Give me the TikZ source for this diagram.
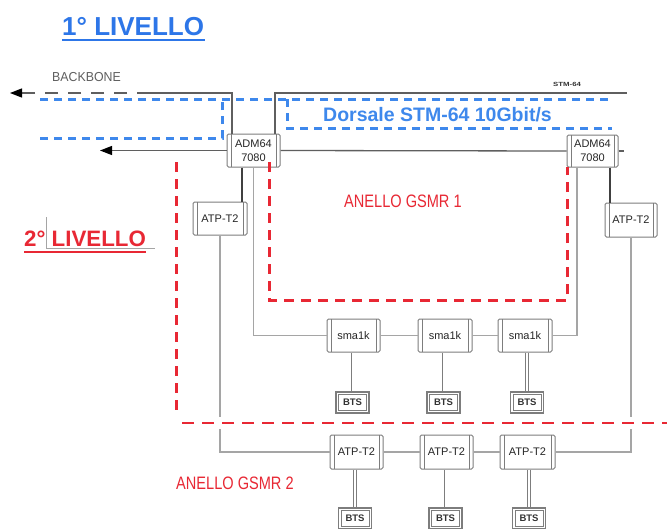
\documentclass[tikz,border=0pt]{standalone}
\usepackage{fontspec}
\setmainfont{Liberation Sans}
\usetikzlibrary{arrows.meta}
\definecolor{hblue}{RGB}{45,118,232}
\definecolor{dblue}{RGB}{62,136,236}
\definecolor{hred}{RGB}{232,40,52}
\definecolor{lgray}{RGB}{165,165,165}
\definecolor{bgray}{RGB}{125,125,125}
\definecolor{tgray}{RGB}{95,95,95}
\tikzset{
  dev/.style={draw=bgray, line width=1pt, rounded corners=1.5pt, fill=white, inner sep=0pt,
    text=black!85, align=center, font=\fontsize{11}{14}\selectfont,
    path picture={\draw[bgray,line width=.6pt]
      ([xshift=4pt]path picture bounding box.north west) -- ([xshift=4pt]path picture bounding box.south west)
      ([xshift=-4pt]path picture bounding box.north east) -- ([xshift=-4pt]path picture bounding box.south east);}},
  btsbox/.style={draw=bgray, line width=1.5pt, fill=white,
    inner sep=0pt, minimum width=33pt, minimum height=21pt, text=black!80,
    font=\bfseries\fontsize{9.5}{11}\selectfont,
    path picture={\draw[bgray,line width=.6pt]
      ([shift={(2.3pt,-2.3pt)}]path picture bounding box.north west) rectangle
      ([shift={(-2.3pt,2.3pt)}]path picture bounding box.south east);}},
  conn/.style={draw=lgray, line width=1.9pt},
  darkconn/.style={draw=black!75, line width=2.8pt},
  dconn/.style={draw=bgray, line width=.9pt, double=white, double distance=2pt},
  bdash/.style={draw=dblue, line width=3pt, dash pattern=on 8pt off 6pt},
  rdash/.style={draw=hred, line width=3pt, dash pattern=on 10pt off 7pt},
  arr/.style={-{Triangle[length=12pt,width=9pt,color=black]}}
}
\begin{document}
\begin{tikzpicture}[x=1pt,y=-1pt]
\useasboundingbox[fill=white] (0,0) rectangle (667,528);

% devices
\node[dev, minimum width=53pt, minimum height=33pt] (adm1) at (253.5,150.5) {ADM64\\7080};
\node[dev, minimum width=51pt, minimum height=32pt] (adm2) at (592.5,151) {ADM64\\7080};
\node[dev, minimum width=54pt, minimum height=33pt] (atpL) at (220,218.5) {ATP-T2};
\node[dev, minimum width=52pt, minimum height=34pt] (atpR) at (631,220) {ATP-T2};
\node[dev, minimum width=53pt, minimum height=33pt] (sma1) at (353.5,335.5) {sma1k};
\node[dev, minimum width=54pt, minimum height=33pt] (sma2) at (445,335.5) {sma1k};
\node[dev, minimum width=54pt, minimum height=33pt] (sma3) at (525,335.5) {sma1k};
\node[btsbox] (bts1) at (352.5,402.5) {BTS};
\node[btsbox] (bts2) at (443.5,402.5) {BTS};
\node[btsbox] (bts3) at (527,402.5) {BTS};
\node[dev, minimum width=53pt, minimum height=34pt] (atpb1) at (356.5,452) {ATP-T2};
\node[dev, minimum width=53pt, minimum height=34pt] (atpb2) at (446.5,452) {ATP-T2};
\node[dev, minimum width=55pt, minimum height=34pt] (atpb3) at (527.5,452) {ATP-T2};
\node[btsbox] (btsb1) at (355,518.5) {BTS};
\node[btsbox] (btsb2) at (445.5,518.5) {BTS};
\node[btsbox] (btsb3) at (529,518.5) {BTS};

% helper coordinates
\coordinate (bb) at (150,93);
\coordinate (bbend) at (10,93);
\coordinate (stm) at (627,93);
\coordinate (lowend) at (100,150.5);
\coordinate (a1l) at ([xshift=-21.5pt]adm1.north);
\coordinate (a1r) at ([xshift=21.5pt]adm1.north);
\coordinate (a1d) at ([xshift=-11.5pt]adm1.south);
\coordinate (a2g) at ([xshift=-15.5pt]adm2.south);
\coordinate (a2d) at ([xshift=17.5pt]adm2.south);
\coordinate (stub) at ([xshift=5pt]adm2.east);

% backbone lines
\draw[draw=tgray, line width=1.3pt] (a1l) |- (bb);
\draw[draw=tgray, line width=1.3pt, dash pattern=on 13pt off 10pt, arr] (bb) -- (bbend);
\draw[draw=tgray, line width=1.3pt] (a1r) |- (stm);
\draw[draw=tgray, line width=1.3pt, arr] (adm1.west) -- (lowend);
\draw[draw=tgray, line width=1.3pt] (adm1.east) -- (adm2.west);
\draw[draw=tgray, line width=1.3pt] (adm2.east) -- (stub);

% ring 1
\draw[darkconn] (a1d) -- (a1d |- atpL.north);
\draw[darkconn] (a2d) -- (a2d |- atpR.north);
\draw[conn] (adm1.south) |- (sma1.west);
\draw[conn] (sma1.east) -- (sma2.west);
\draw[conn] (sma2.east) -- (sma3.west);
\draw[conn] (a2g) |- (sma3.east);
\draw[dconn] (bts1.north |- sma1.south) -- (bts1.north);
\draw[dconn] (bts2.north |- sma2.south) -- (bts2.north);
\draw[dconn] (bts3.north |- sma3.south) -- (bts3.north);

% ring 2
\draw[conn] (atpL.south) |- (atpb1.west);
\draw[conn] (atpb1.east) -- (atpb2.west);
\draw[conn] (atpb2.east) -- (atpb3.west);
\draw[conn] (atpR.south) |- (atpb3.east);
\draw[dconn] (btsb1.north |- atpb1.south) -- (btsb1.north);
\draw[dconn] (btsb2.north |- atpb2.south) -- (btsb2.north);
\draw[dconn] (btsb3.north |- atpb3.south) -- (btsb3.north);
\fill[white] (213,417) rectangle (227,429);
\fill[white] (624,417) rectangle (638,429);

% blue dashed backbone
\draw[bdash] (40,99) -- (612,99);
\draw[bdash] (40,138) -- (222,138) -- (222,99);
\draw[bdash] (287,99) -- (287,128) -- (612,128);

% red dashed rings
\draw[rdash] (176,162) -- (176,413);
\draw[rdash, line width=2.4pt, dash pattern=on 12pt off 8pt] (182,423) -- (667,423);
\draw[rdash] (269,162) -- (269,300) -- (567,300) -- (567,167);

% artifact line near 2nd level
\draw[lgray, line width=.6pt] (46,217) |- (155,248);

% texts
\node[anchor=west, inner sep=0pt, text=hblue, font=\bfseries\fontsize{26}{28}\selectfont] (t1) at (62,26.5) {1° LIVELLO};
\draw[hblue, line width=2pt] (62,40) -- (205,40);
\node[anchor=west, inner sep=0pt, text=hred, font=\bfseries\fontsize{22.3}{25}\selectfont] (t2) at (24,239) {2° LIVELLO};
\draw[hred, line width=2pt] (24,252) -- (146,252);
\node[anchor=base west, inner sep=0pt, text=dblue, font=\bfseries\fontsize{19.5}{22}\selectfont] (dors) at (323,121.5) {Dorsale STM-64 10Gbit/s};
\node[anchor=base west, inner sep=0pt, text=tgray, font=\fontsize{13}{15}\selectfont] (bbl) at (52,81.5) {\scalebox{0.95}[1]{BACKBONE}};
\node[anchor=base west, inner sep=0pt, text=black!80, font=\bfseries\fontsize{6}{7}\selectfont] (stml) at (553,86) {\scalebox{1.3}[1]{STM-64}};
\node[anchor=base west, inner sep=0pt, text=hred, font=\fontsize{18}{20}\selectfont] (g1) at (344,207) {\scalebox{0.81}[1]{ANELLO GSMR 1}};
\node[anchor=base west, inner sep=0pt, text=hred, font=\fontsize{18}{20}\selectfont] (g2) at (176,489) {\scalebox{0.81}[1]{ANELLO GSMR 2}};
\end{tikzpicture}
\end{document}
